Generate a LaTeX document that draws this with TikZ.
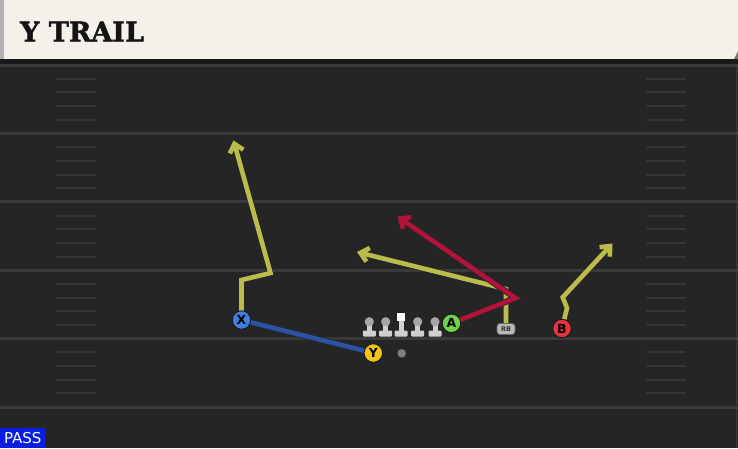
\documentclass[tikz,border=0pt]{standalone}
\usepackage{fontspec}
\setmainfont{DejaVu Sans}
\newfontfamily\titlefont{DejaVu Serif}[BoldFeatures={FakeBold=1.6}]
\usetikzlibrary{arrows.meta}
\pgfdeclarelayer{fieldlayer}
\pgfdeclarelayer{routelayer}
\pgfsetlayers{fieldlayer,routelayer,main}
\definecolor{fieldbg}{HTML}{252525}
\definecolor{fieldline}{HTML}{3A3A3A}
\definecolor{hashcol}{HTML}{363636}
\definecolor{headercream}{HTML}{F4F1EA}
\definecolor{bandcol}{HTML}{1A1A1A}
\definecolor{ryel}{HTML}{BCBC4C}
\definecolor{rred}{HTML}{B2133A}
\definecolor{rblue}{HTML}{2A53A8}
\definecolor{pxblue}{HTML}{3D80E2}
\definecolor{pyyel}{HTML}{F2C41C}
\definecolor{pagreen}{HTML}{6FD34A}
\definecolor{pbred}{HTML}{E8323E}
\definecolor{passblue}{HTML}{0A1EE0}
\definecolor{lmbody}{HTML}{CFCFCF}
\definecolor{lmhead}{HTML}{A6A6A6}
\definecolor{rbgray}{HTML}{B8B8B8}
\tikzset{
  route/.style={draw=#1, line width=4.6pt, line join=miter, miter limit=10,
    preaction={draw=black!85, line width=6.2pt}},
  routetip/.style={-{Straight Barb[length=8pt,width=14pt]}},
  player/.style={circle, fill=#1, draw=black!90, line width=0.9pt,
    minimum size=18.5pt, inner sep=0pt, text=black,
    font=\bfseries\fontsize{12.5}{12.5}\selectfont},
  rbshape/.style={fill=rbgray, draw=black!60, line width=0.6pt, rounded corners=3pt,
    minimum width=18pt, minimum height=11pt, inner sep=0pt, text=black!80,
    font=\bfseries\fontsize{6.5}{6.5}\selectfont},
  yardline/.style={draw=fieldline, line width=3pt},
  hashmark/.style={draw=hashcol, line width=2pt, line cap=round},
  lineman/.pic={
    \fill[lmbody] (-2.5,1) rectangle (2.5,9.5);
    \fill[lmbody, rounded corners=1pt] (-6.5,8.8) rectangle (6.5,14.8);
    \fill[lmhead] (0,0) circle (4.6);
  },
  centerman/.pic={
    \fill[lmbody] (-2.5,-1) rectangle (2.5,9.5);
    \fill[lmbody, rounded corners=1pt] (-6.5,8.8) rectangle (6.5,14.8);
    \fill[white] (-4.3,-8.8) rectangle (4.3,-0.8);
  }
}
\begin{document}
\begin{tikzpicture}[x=1pt,y=-1pt]
\useasboundingbox (0,0) rectangle (738,448);
\begin{pgfonlayer}{fieldlayer}
  \fill[fieldbg] (0,0) rectangle (738,448);
  \foreach \k in {0,...,5} {
    \draw[yardline] (0,65+68.4*\k) -- (738,65+68.4*\k);
  }
  \foreach \k in {0,...,4} {
    \foreach \j in {1,...,4} {
      \draw[hashmark] (57,65+68.4*\k+13.7*\j) -- (95,65+68.4*\k+13.7*\j);
      \draw[hashmark] (647,65+68.4*\k+13.7*\j) -- (685,65+68.4*\k+13.7*\j);
    }
  }
  \draw[draw=fieldline, line width=1.2pt] (736.6,64) -- (736.6,448);
  \fill[bandcol] (0,59) rectangle (738,64);
  \fill[headercream] (0,0) rectangle (738,59);
  \fill[black!30] (0,0) rectangle (3.5,59);
  \fill[black!55] (738,51) -- (738,59) -- (734,59) -- cycle;
\end{pgfonlayer}
\node[anchor=west, inner sep=0pt, text=black!92,
  font=\titlefont\bfseries\fontsize{27}{27}\selectfont] (title) at (20,31.5) {Y TRAIL};
\node[anchor=south west, fill=passblue, text=white, inner sep=0pt,
  minimum width=45pt, minimum height=20pt,
  font=\fontsize{15}{15}\selectfont] (pass) at (0,448) {PASS};
% players
\node[player=pxblue] (X) at (241.5,320) {X};
\node[player=pyyel] (Y) at (373.3,353) {Y};
\node[player=pagreen] (A) at (451.5,323.3) {A};
\node[player=pbred] (B) at (562,328.5) {B};
\node[rbshape] (RB) at (506,329) {RB};
\node[circle, fill=black!50, draw=black!80, line width=0.4pt, minimum size=9pt, inner sep=0pt] (ball) at (401.7,353.3) {};
\pic at (369.3,321.7) {lineman};
\pic at (385.7,321.7) {lineman};
\pic at (401,321.7) {centerman};
\pic at (417.7,321.7) {lineman};
\pic at (435,321.7) {lineman};
% route points
\coordinate (x1) at (241.5,280);
\coordinate (x2) at (270.5,273);
\coordinate (xend) at (233.5,140.5);
\coordinate (r1) at (506,289);
\coordinate (rend) at (357,252);
\coordinate (a1) at (515.5,298);
\coordinate (aend) at (397.5,216.5);
\coordinate (b1) at (567,308);
\coordinate (b2) at (562.7,297.3);
\coordinate (bend) at (612.5,243.5);
\begin{pgfonlayer}{routelayer}
  \draw[route=rblue] (X.center) -- (Y.center);
  \draw[route=ryel, routetip] (X.center) -- (x1) -- (x2) -- (xend);
  \draw[route=ryel, routetip] (RB.north) -- (r1) -- (rend);
  \draw[route=rred, routetip] (A.center) -- (a1) -- (aend);
  \draw[route=ryel, routetip] (B.center) -- (b1) -- (b2) -- (bend);
\end{pgfonlayer}
\end{tikzpicture}
\end{document}
